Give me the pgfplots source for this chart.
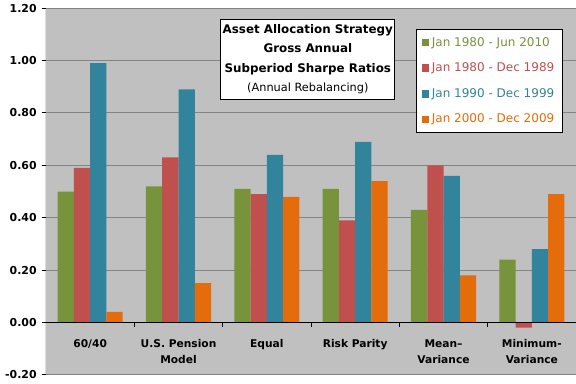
\documentclass[border=0pt]{standalone}
\usepackage{fontspec}
\setmainfont{DejaVu Sans}
\usepackage{pgfplots}
\pgfplotsset{compat=1.18}
\definecolor{cg}{HTML}{77933C}
\definecolor{cr}{HTML}{C0504D}
\definecolor{cb}{HTML}{31849B}
\definecolor{co}{HTML}{E46C0A}
\definecolor{bg}{HTML}{C0C0C0}
\definecolor{gridc}{HTML}{848484}
\begin{document}
\begin{tikzpicture}
\begin{axis}[
  scale only axis, width=397.5pt, height=274.9pt,
  xmin=-0.5, xmax=5.5, ymin=-0.2, ymax=1.2,
  axis background/.style={fill=bg},
  axis line style={draw=none},
  ytick={-0.2,0,0.2,0.4,0.6,0.8,1.0,1.2},
  xtick=\empty,
  ytick pos=left, tick align=outside,
  major tick length=3pt,
  tick style={black, line width=0.75pt},
  ymajorgrids, grid style={gridc, line width=0.75pt},
  /pgf/number format/fixed, /pgf/number format/fixed zerofill,
  /pgf/number format/precision=2, /pgf/number format/assume math mode=true,
  yticklabel style={font=\bfseries\fontsize{8.2}{9}\selectfont, xshift=-0.5pt},
  ybar, bar width=0.184,
  legend cell align=left,
  legend image code/.code={\fill[#1,draw=none] (0pt,-2.8pt) rectangle (5.6pt,2.8pt);},
  legend style={at={(0.698,0.9425)}, anchor=north west, draw=black, fill=white, line width=0.75pt,
    font=\fontsize{9}{10}\selectfont, row sep=7pt, inner xsep=4pt, inner ysep=3.5pt},
]
\addplot[fill=cg, draw=none, bar shift=-0.276] coordinates {(0,0.50)(1,0.52)(2,0.51)(3,0.51)(4,0.43)(5,0.24)};
\addlegendentry{\textcolor{cg}{Jan 1980 - Jun 2010}}
\addplot[fill=cr, draw=none, bar shift=-0.092] coordinates {(0,0.59)(1,0.63)(2,0.49)(3,0.39)(4,0.60)(5,-0.02)};
\addlegendentry{\textcolor{cr}{Jan 1980 - Dec 1989}}
\addplot[fill=cb, draw=none, bar shift=0.092] coordinates {(0,0.99)(1,0.89)(2,0.64)(3,0.69)(4,0.56)(5,0.28)};
\addlegendentry{\textcolor{cb}{Jan 1990 - Dec 1999}}
\addplot[fill=co, draw=none, bar shift=0.276] coordinates {(0,0.04)(1,0.15)(2,0.48)(3,0.54)(4,0.18)(5,0.49)};
\addlegendentry{\textcolor{co}{Jan 2000 - Dec 2009}}
% axis lines
\draw[black, line width=0.75pt] (axis cs:-0.5,-0.2) -- (axis cs:-0.5,1.2);
\draw[black, line width=0.75pt] (axis cs:-0.5,0) -- (axis cs:5.5,0);
\draw[black, line width=0.75pt] (axis cs:0.5,0) -- ++(0pt,-3.75pt);
\draw[black, line width=0.75pt] (axis cs:1.5,0) -- ++(0pt,-3.75pt);
\draw[black, line width=0.75pt] (axis cs:2.5,0) -- ++(0pt,-3.75pt);
\draw[black, line width=0.75pt] (axis cs:3.5,0) -- ++(0pt,-3.75pt);
\draw[black, line width=0.75pt] (axis cs:4.5,0) -- ++(0pt,-3.75pt);
% category labels
\begin{scope}[every node/.style={font=\bfseries\fontsize{8}{9}\selectfont, anchor=base, inner sep=0pt}]
\node at (axis cs:0,-0.094) {60/40};
\node at (axis cs:1,-0.094) {U.S. Pension};
\node at (axis cs:1,-0.156) {Model};
\node at (axis cs:2,-0.094) {Equal};
\node at (axis cs:3,-0.094) {Risk Parity};
\node at (axis cs:4,-0.094) {Mean--};
\node at (axis cs:4,-0.156) {Variance};
\node at (axis cs:5,-0.094) {Minimum-};
\node at (axis cs:5,-0.156) {Variance};
\end{scope}
% title box
\node[draw=black, fill=white, line width=0.75pt, minimum width=130.5pt, minimum height=60pt,
  align=center, inner sep=0pt, font=\fontsize{8.9}{14.4}\selectfont\bfseries] at (rel axis cs:0.494,0.861)
  {Asset Allocation Strategy\\
   Gross Annual\\
   Subperiod Sharpe Ratios\\
   {\mdseries\fontsize{8.5}{14.4}\selectfont (Annual Rebalancing)}};
\end{axis}
\pgfresetboundingbox
\path ([shift={(-34.5pt,-6.8pt)}]current axis.south west) rectangle ([shift={(0pt,6.2pt)}]current axis.north east);
\end{tikzpicture}
\end{document}
